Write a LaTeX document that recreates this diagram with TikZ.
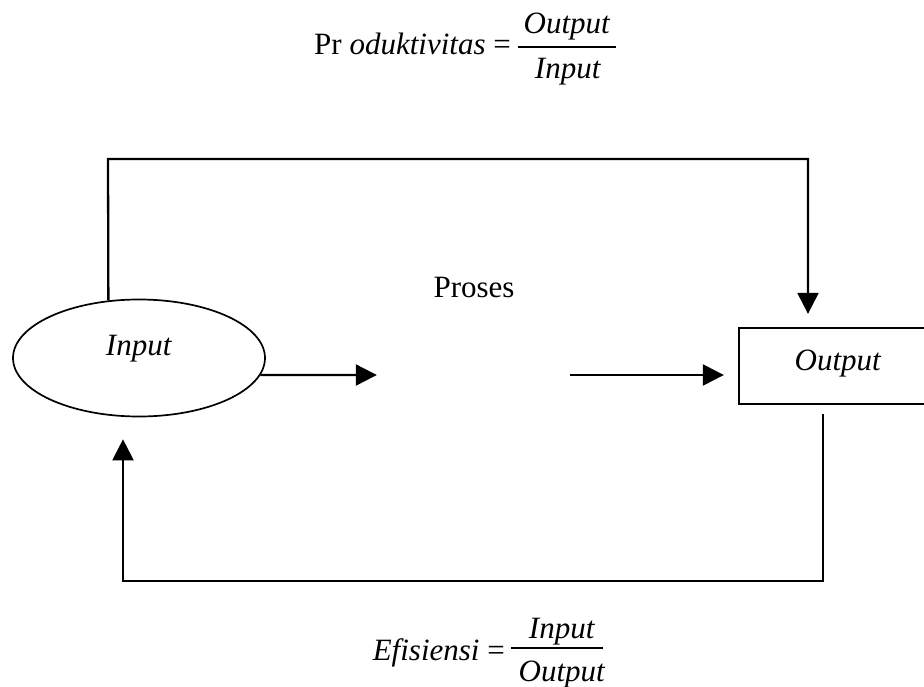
\documentclass[tikz,border=0pt]{standalone}
\usepackage{fontspec}
\setmainfont{Liberation Serif}
\usetikzlibrary{arrows.meta,shapes.geometric}
\begin{document}
\begin{tikzpicture}[x=1pt,y=-1pt,
  every node/.style={font=\fontsize{31}{37}\selectfont, inner sep=0pt},
  flow/.style={line width=2.3pt, -{Triangle[length=21pt,width=21pt]}},
  fracbar/.style={line width=1.4pt},
  termbox/.style={draw, line width=2.3pt, rectangle, minimum width=198pt, minimum height=76pt},
  termoval/.style={draw, line width=1.7pt, ellipse, minimum width=252pt, minimum height=117pt}]
\useasboundingbox (0,0) rectangle (924,687);
\clip (0,0) rectangle (924,687);

% productivity formula
\node[anchor=base east] (pl) at (511,55) {Pr \textit{oduktivitas} =};
\node[anchor=base] (pnum) at (567,34) {\textit{Output}};
\node[anchor=base] (pden) at (568,79) {\textit{Input}};
\draw[fracbar] (518,47) coordinate (pa) -- (616,47) coordinate (pb);

% efficiency formula
\node[anchor=base east] (el) at (505,660) {\textit{Efisiensi} =};
\node[anchor=base] (enum) at (562,638) {\textit{Input}};
\node[anchor=base] (eden) at (562,681) {\textit{Output}};
\draw[fracbar] (511,648) coordinate (ea) -- (603,648) coordinate (eb);

% main blocks
\node[termoval, text height=20pt, text depth=26pt] (in) at (139,358) {\textit{Input}};
\node[minimum width=193pt, minimum height=60pt] (proc) at (473.5,375) {};
\node[anchor=base] (proclabel) at (474,298) {Proses};
\node[termbox, text height=20pt, text depth=12pt] (out) at (838,366) {\textit{Output}};

% corner points of the feedback loops
\coordinate (tl) at (108,159);
\coordinate (tr) at (808,159);
\coordinate (br) at (823,581);
\coordinate (bl) at (123,581);

% forward flow
\draw[flow] (in.-8) -- (proc.west);
\draw[flow, shorten >=14pt] (proc.east) -- (proc.east -| out.west);

% upper loop: input to output
\draw[flow, shorten >=13pt] (in.118.5) -- (tl) -- (tr) -- (tr |- out.north);

% lower loop: output back to input
\draw[flow, shorten <=9pt, shorten >=22pt] (br |- out.south) -- (br) -- (bl) -- (bl |- in.south);
\end{tikzpicture}
\end{document}
